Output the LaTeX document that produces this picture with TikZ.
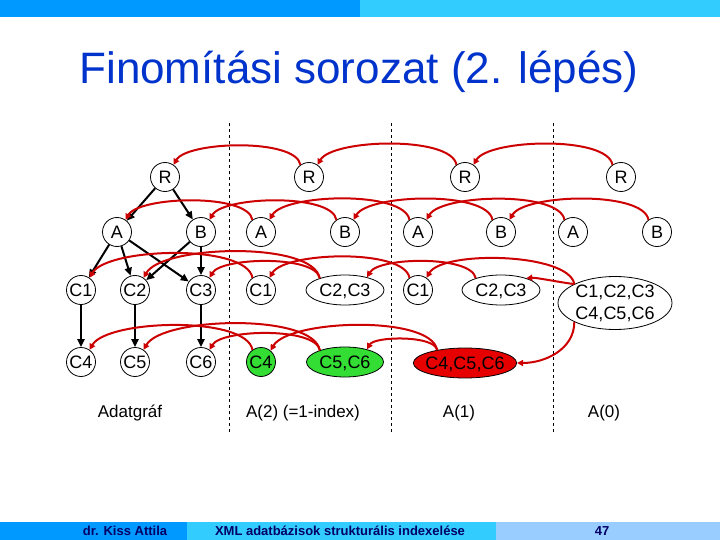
\documentclass[tikz,border=0pt]{standalone}
\usepackage{fontspec}
\setmainfont{Liberation Sans}
\usetikzlibrary{positioning,calc,shapes,arrows.meta}
\definecolor{barblue}{RGB}{0,153,255}
\definecolor{barcyan}{RGB}{51,204,255}
\definecolor{barlight}{RGB}{153,204,255}
\definecolor{titleblue}{RGB}{0,51,204}
\definecolor{arcred}{RGB}{204,0,0}
\definecolor{setgreen}{RGB}{51,221,51}
\definecolor{setred}{RGB}{230,0,0}
\definecolor{footnavy}{RGB}{0,0,102}
\tikzstyle{nod}=[circle, draw, line width=0.8pt, inner sep=0pt, minimum size=29pt, font=\fontsize{18}{18}\selectfont]
\tikzstyle{ell}=[ellipse, draw, line width=0.8pt, inner sep=0pt, minimum height=30pt, text depth=0pt, font=\fontsize{18}{22}\selectfont]
\tikzstyle{edg}=[line width=2pt, -{Triangle[length=8pt,width=7pt]}]
\tikzstyle{refarc}=[draw=arcred, line width=2pt, -{Triangle[length=6pt,width=6pt]}, looseness=0.55]
\tikzstyle{divline}=[dashed, line width=0.7pt]
\tikzstyle{lbl}=[font=\fontsize{17}{17}\selectfont]
\tikzstyle{foot}=[font=\fontsize{13}{13}\selectfont\bfseries, text=footnavy]

\begin{document}
\begin{tikzpicture}[x=1pt,y=1pt]
\useasboundingbox (0,0) rectangle (720,-540);
% bars
\fill[barblue] (0,0) rectangle (360,-17);
\fill[barcyan] (360,0) rectangle (720,-17);
\fill[barblue] (0,-522) rectangle (187,-540);
\fill[barcyan] (187,-522) rectangle (496,-540);
\fill[barlight] (496,-522) rectangle (720,-540);
\node[foot] (author) at (125,-531) {dr. Kiss Attila};
\node[foot] (course) at (340,-531) {XML adatbázisok strukturális indexelése};
\node[foot] (page) at (602,-531) {47};

\node[anchor=base, text=titleblue, font=\fontsize{44}{44}\selectfont] (title) at (359,-84) {Finomítási sorozat (2. lépés)};

% column separators
\draw[divline] (229,-123) -- (229,-432);
\draw[divline] (391,-123) -- (391,-432);
\draw[divline] (553,-123) -- (553,-432);

% data graph
\node[nod] (dR) at (165,-177) {R};
\node[nod] (dA) at (117,-232) {A};
\node[nod] (dB) at (201,-232) {B};
\node[nod] (dC1) at (81,-290) {C1};
\node[nod] (dC2) at (135,-290) {C2};
\node[nod] (dC3) at (201,-290) {C3};
\node[nod] (dC4) at (81,-362) {C4};
\node[nod] (dC5) at (135,-362) {C5};
\node[nod] (dC6) at (201,-362) {C6};

\draw[edg] (dR) -- (dA);
\draw[edg] (dR) -- (dB);
\draw[edg] (dA) -- (dC1);
\draw[edg] (dA) -- (dC2);
\draw[edg] (dA) -- (dC3);
\draw[edg] (dB) -- (dC2);
\draw[edg] (dB) -- (dC3);
\draw[edg] (dC1) -- (dC4);
\draw[edg] (dC2) -- (dC5);
\draw[edg] (dC3) -- (dC6);

% A(2)
\node[nod] (pR) at (309,-177) {R};
\node[nod] (pA) at (261,-232) {A};
\node[nod] (pB) at (345,-232) {B};
\node[nod] (pC1) at (261,-290) {C1};
\node[ell, minimum width=78pt] (pC23) at (345,-290) {C2,C3};
\node[nod, fill=setgreen] (pC4) at (261,-362) {C4};
\node[ell, minimum width=77pt, fill=setgreen] (pC56) at (345,-362) {C5,C6};

% A(1)
\node[nod] (qR) at (465,-177) {R};
\node[nod] (qA) at (418,-232) {A};
\node[nod] (qB) at (501,-232) {B};
\node[nod] (qC1) at (418,-290) {C1};
\node[ell, minimum width=78pt] (qC23) at (501,-290) {C2,C3};
\node[ell, minimum width=102pt, inner xsep=-3pt, fill=setred] (qC456) at (465,-363) {C4,C5,C6};

% A(0)
\node[ell, text depth=, minimum width=114pt, minimum height=53pt, align=center] (zC) at (615,-303) {C1,C2,C3\\C4,C5,C6};
\node[nod] (zR) at (621,-177) {R};
\node[nod] (zA) at (573,-232) {A};
\node[nod] (zB) at (657,-232) {B};

% refinement arcs
\draw[refarc] (pR.125) to[out=100,in=60] (dR.55);
\draw[refarc] (qR.125) to[out=100,in=60] (pR.55);
\draw[refarc] (zR.125) to[out=100,in=60] (qR.55);
\draw[refarc] (pA.125) to[out=100,in=60] (dA.55);
\draw[refarc] (pB.125) to[out=100,in=60] (dB.55);
\draw[refarc] (qA.125) to[out=100,in=60] (pA.55);
\draw[refarc] (qB.125) to[out=100,in=60] (pB.55);
\draw[refarc] (zA.125) to[out=100,in=60] (qA.55);
\draw[refarc] (zB.125) to[out=100,in=60] (qB.55);

\draw[refarc] (pC1.125) to[out=100,in=60] (dC1.55);
\draw[refarc] (pC23.155) to[out=100,in=60] (dC2.55);
\draw[refarc] (pC23.155) to[out=100,in=60] (dC3.55);
\draw[refarc] (qC1.125) to[out=100,in=60] (pC1.55);
\draw[refarc] (qC23.155) to[out=100,in=60] (pC23.30);
\draw[refarc] (zC.155) to[out=100,in=60] (qC1.55);
\draw[refarc] (zC.155) to[out=175,in=5,looseness=0.5] (qC23.25);
\draw[refarc] (zC.205) to[out=-90,in=0,looseness=1] (qC456.east);

\draw[refarc] (pC4.125) to[out=100,in=60] (dC4.55);
\draw[refarc] (pC56.155) to[out=100,in=60] (dC5.55);
\draw[refarc] (pC56.155) to[out=100,in=60] (dC6.55);
\draw[refarc] (qC456.155) to[out=100,in=60] (pC4.50);
\draw[refarc] (qC456.155) to[out=100,in=60] (pC56.30);

% column labels
\node[lbl] (lblD) at (130,-413) {Adatgráf};
\node[lbl] (lblP) at (303,-413) {A(2) (=1-index)};
\node[lbl] (lblQ) at (459,-413) {A(1)};
\node[lbl] (lblZ) at (604,-413) {A(0)};
\end{tikzpicture}
\end{document}
